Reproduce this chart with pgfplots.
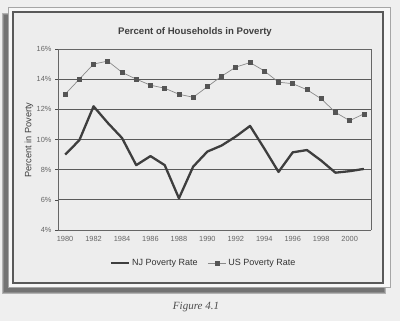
\documentclass[border=0pt]{standalone}
\usepackage{pgfplots}
\pgfplotsset{compat=1.18}
\usepackage{fontspec}
\setmainfont{Liberation Sans}
\newfontfamily\capfont{Liberation Serif}
\definecolor{pagebg}{HTML}{EFEFEF}
\definecolor{cardbg}{HTML}{F7F7F7}
\definecolor{chartbg}{HTML}{EDEDED}
\definecolor{njcol}{HTML}{3E3E3E}
\definecolor{uscol}{HTML}{8A8A8A}
\definecolor{usmark}{HTML}{555555}
\definecolor{gridc}{HTML}{5A5A5A}
\definecolor{txt}{HTML}{404040}
\begin{document}
\begin{tikzpicture}
\path[use as bounding box, fill=pagebg] (0pt,0pt) rectangle (400pt,-321pt);
\begin{scope}[x=1pt,y=-1pt]
  % shadow
  \fill[black!30] (2,13) rectangle (386,294);
  \fill[black!45] (3,14) rectangle (385,293);
  \fill[black!55] (4,15) rectangle (384,292);
  % card
  \filldraw[fill=cardbg, draw=black!35, line width=0.6pt] (8,7) rectangle (390,287);
  \filldraw[fill=chartbg, draw=black!65, line width=1.6pt] (13,12) rectangle (383,283);
  % title
  \node[font=\fontsize{9.6}{11}\selectfont\bfseries, text=txt] at (195,32.5) {Percent of Households in Poverty};
  % y label
  \node[font=\fontsize{9.2}{11}\selectfont, text=txt, rotate=90] at (29,140) {Percent in Poverty};
  % caption
  \node[font=\capfont\itshape\fontsize{11}{13}\selectfont, text=black!70] at (196,307) {Figure 4.1};
\end{scope}
\begin{axis}[
  at={(58pt,-230pt)}, anchor=south west,
  width=313pt, height=181pt, scale only axis,
  xmin=1979.5, xmax=2001.5,
  ymin=4, ymax=16,
  ytick={4,6,...,16},
  xtick={1980,1982,...,2000},
  extra x ticks={1979.5,1981.5,...,2001.5},
  extra x tick labels={},
  extra x tick style={major tick length=4pt, tick style={black!70, line width=0.6pt}, tick align=inside, grid=none},
  x tick style={draw=none},
  xticklabel style={/pgf/number format/1000 sep={}},
  /pgf/number format/assume math mode=true,
  ymajorgrids,
  major grid style={gridc, line width=0.7pt},
  y tick style={black!70, line width=0.6pt},
  major tick length=3pt,
  tick align=outside,
  yticklabel={\pgfmathprintnumber{\tick}\%},
  tick label style={font=\fontsize{7.4}{8}\selectfont, text=black!60},
  x tick label style={/pgf/number format/1000 sep={}},
  axis line style={black!60, line width=0.7pt},
  axis x line*=bottom, axis y line*=left,
  axis background/.style={fill=chartbg},
  legend style={at={(0.465,-0.182)}, anchor=center, draw=none, fill=none,
    font=\fontsize{9}{10}\selectfont, text=black!80, legend columns=2,
    /tikz/every even column/.append style={column sep=8pt}},
  legend cell align=left,
  legend image code/.code={\draw[#1] (0pt,0pt) -- (18pt,0pt); \path[#1, only marks] plot coordinates {(9pt,0pt)};},
  clip=false,
]
\draw[black!60, line width=0.7pt] (axis cs:1979.5,16) -- (axis cs:2001.5,16) -- (axis cs:2001.5,4);
\addplot[njcol, line width=2.3pt, mark=none, line join=round] coordinates {
(1980,9.0) (1981,9.95) (1982,12.2) (1983,11.1) (1984,10.1) (1985,8.3)
(1986,8.9) (1987,8.3) (1988,6.1) (1989,8.2) (1990,9.2) (1991,9.6)
(1992,10.2) (1993,10.9) (1994,9.4) (1995,7.85) (1996,9.15) (1997,9.3)
(1998,8.6) (1999,7.8) (2000,7.9) (2001,8.05)};
\addlegendentry{NJ Poverty Rate}
\addplot[uscol, line width=0.7pt, mark=square*, mark size=2pt, mark options={fill=usmark, draw=usmark, solid}] coordinates {
(1980,13.0) (1981,14.0) (1982,15.0) (1983,15.2) (1984,14.45) (1985,14.0)
(1986,13.6) (1987,13.4) (1988,13.0) (1989,12.8) (1990,13.5) (1991,14.2)
(1992,14.8) (1993,15.1) (1994,14.55) (1995,13.8) (1996,13.7) (1997,13.3)
(1998,12.7) (1999,11.8) (2000,11.25) (2001,11.7)};
\addlegendentry{US Poverty Rate}
\end{axis}
\end{tikzpicture}
\end{document}
